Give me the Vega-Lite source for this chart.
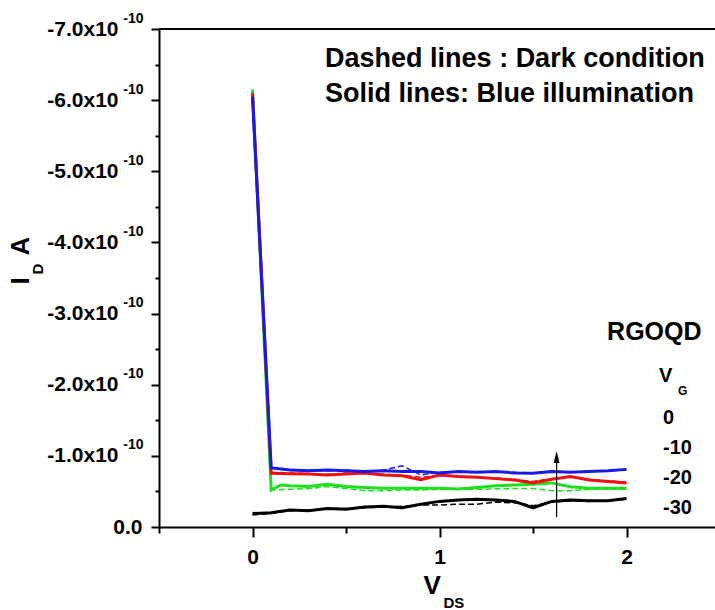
{
  "$schema": "https://vega.github.io/schema/vega-lite/v6.json",
  "width": 556,
  "height": 498,
  "autosize": {"type": "none"},
  "padding": {"left": 159, "top": 29, "right": 0, "bottom": 83},
  "background": "white",
  "config": {
    "view": {"stroke": null},
    "font": "Liberation Sans",
    "axis": {
      "grid": false,
      "domainColor": "black",
      "domainWidth": 2,
      "tickColor": "black",
      "tickWidth": 2,
      "labelColor": "black",
      "labelFont": "Liberation Sans",
      "labelFontWeight": "bold",
      "titleColor": "black",
      "titleFont": "Liberation Sans",
      "titleFontWeight": "bold"
    },
    "text": {"font": "Liberation Sans", "fontWeight": "bold", "color": "black"}
  },
  "datasets": {
    "iv": [
      {"VDS": 0.0, "ID": -0.19e-10, "VG": "0", "cond": "Blue illumination"},
      {"VDS": 0.1, "ID": -0.20e-10, "VG": "0", "cond": "Blue illumination"},
      {"VDS": 0.2, "ID": -0.24e-10, "VG": "0", "cond": "Blue illumination"},
      {"VDS": 0.3, "ID": -0.23e-10, "VG": "0", "cond": "Blue illumination"},
      {"VDS": 0.4, "ID": -0.26e-10, "VG": "0", "cond": "Blue illumination"},
      {"VDS": 0.5, "ID": -0.25e-10, "VG": "0", "cond": "Blue illumination"},
      {"VDS": 0.6, "ID": -0.28e-10, "VG": "0", "cond": "Blue illumination"},
      {"VDS": 0.7, "ID": -0.29e-10, "VG": "0", "cond": "Blue illumination"},
      {"VDS": 0.8, "ID": -0.27e-10, "VG": "0", "cond": "Blue illumination"},
      {"VDS": 0.9, "ID": -0.32e-10, "VG": "0", "cond": "Blue illumination"},
      {"VDS": 1.0, "ID": -0.36e-10, "VG": "0", "cond": "Blue illumination"},
      {"VDS": 1.1, "ID": -0.38e-10, "VG": "0", "cond": "Blue illumination"},
      {"VDS": 1.2, "ID": -0.39e-10, "VG": "0", "cond": "Blue illumination"},
      {"VDS": 1.3, "ID": -0.38e-10, "VG": "0", "cond": "Blue illumination"},
      {"VDS": 1.4, "ID": -0.36e-10, "VG": "0", "cond": "Blue illumination"},
      {"VDS": 1.5, "ID": -0.27e-10, "VG": "0", "cond": "Blue illumination"},
      {"VDS": 1.6, "ID": -0.36e-10, "VG": "0", "cond": "Blue illumination"},
      {"VDS": 1.7, "ID": -0.38e-10, "VG": "0", "cond": "Blue illumination"},
      {"VDS": 1.8, "ID": -0.37e-10, "VG": "0", "cond": "Blue illumination"},
      {"VDS": 1.9, "ID": -0.37e-10, "VG": "0", "cond": "Blue illumination"},
      {"VDS": 2.0, "ID": -0.40e-10, "VG": "0", "cond": "Blue illumination"},

      {"VDS": 0.0, "ID": -6.15e-10, "VG": "-10", "cond": "Blue illumination"},
      {"VDS": 0.1, "ID": -0.52e-10, "VG": "-10", "cond": "Blue illumination"},
      {"VDS": 0.15, "ID": -0.59e-10, "VG": "-10", "cond": "Blue illumination"},
      {"VDS": 0.2, "ID": -0.58e-10, "VG": "-10", "cond": "Blue illumination"},
      {"VDS": 0.3, "ID": -0.57e-10, "VG": "-10", "cond": "Blue illumination"},
      {"VDS": 0.4, "ID": -0.60e-10, "VG": "-10", "cond": "Blue illumination"},
      {"VDS": 0.5, "ID": -0.57e-10, "VG": "-10", "cond": "Blue illumination"},
      {"VDS": 0.6, "ID": -0.555e-10, "VG": "-10", "cond": "Blue illumination"},
      {"VDS": 0.7, "ID": -0.545e-10, "VG": "-10", "cond": "Blue illumination"},
      {"VDS": 0.8, "ID": -0.545e-10, "VG": "-10", "cond": "Blue illumination"},
      {"VDS": 0.9, "ID": -0.545e-10, "VG": "-10", "cond": "Blue illumination"},
      {"VDS": 1.0, "ID": -0.545e-10, "VG": "-10", "cond": "Blue illumination"},
      {"VDS": 1.1, "ID": -0.535e-10, "VG": "-10", "cond": "Blue illumination"},
      {"VDS": 1.2, "ID": -0.555e-10, "VG": "-10", "cond": "Blue illumination"},
      {"VDS": 1.3, "ID": -0.58e-10, "VG": "-10", "cond": "Blue illumination"},
      {"VDS": 1.4, "ID": -0.59e-10, "VG": "-10", "cond": "Blue illumination"},
      {"VDS": 1.5, "ID": -0.60e-10, "VG": "-10", "cond": "Blue illumination"},
      {"VDS": 1.6, "ID": -0.62e-10, "VG": "-10", "cond": "Blue illumination"},
      {"VDS": 1.7, "ID": -0.565e-10, "VG": "-10", "cond": "Blue illumination"},
      {"VDS": 1.8, "ID": -0.545e-10, "VG": "-10", "cond": "Blue illumination"},
      {"VDS": 1.9, "ID": -0.545e-10, "VG": "-10", "cond": "Blue illumination"},
      {"VDS": 2.0, "ID": -0.545e-10, "VG": "-10", "cond": "Blue illumination"},

      {"VDS": 0.0, "ID": -6.1e-10, "VG": "-20", "cond": "Blue illumination"},
      {"VDS": 0.1, "ID": -0.755e-10, "VG": "-20", "cond": "Blue illumination"},
      {"VDS": 0.2, "ID": -0.75e-10, "VG": "-20", "cond": "Blue illumination"},
      {"VDS": 0.3, "ID": -0.745e-10, "VG": "-20", "cond": "Blue illumination"},
      {"VDS": 0.4, "ID": -0.73e-10, "VG": "-20", "cond": "Blue illumination"},
      {"VDS": 0.5, "ID": -0.745e-10, "VG": "-20", "cond": "Blue illumination"},
      {"VDS": 0.6, "ID": -0.76e-10, "VG": "-20", "cond": "Blue illumination"},
      {"VDS": 0.7, "ID": -0.73e-10, "VG": "-20", "cond": "Blue illumination"},
      {"VDS": 0.8, "ID": -0.72e-10, "VG": "-20", "cond": "Blue illumination"},
      {"VDS": 0.9, "ID": -0.665e-10, "VG": "-20", "cond": "Blue illumination"},
      {"VDS": 1.0, "ID": -0.73e-10, "VG": "-20", "cond": "Blue illumination"},
      {"VDS": 1.1, "ID": -0.71e-10, "VG": "-20", "cond": "Blue illumination"},
      {"VDS": 1.2, "ID": -0.70e-10, "VG": "-20", "cond": "Blue illumination"},
      {"VDS": 1.3, "ID": -0.68e-10, "VG": "-20", "cond": "Blue illumination"},
      {"VDS": 1.4, "ID": -0.66e-10, "VG": "-20", "cond": "Blue illumination"},
      {"VDS": 1.5, "ID": -0.62e-10, "VG": "-20", "cond": "Blue illumination"},
      {"VDS": 1.6, "ID": -0.67e-10, "VG": "-20", "cond": "Blue illumination"},
      {"VDS": 1.7, "ID": -0.71e-10, "VG": "-20", "cond": "Blue illumination"},
      {"VDS": 1.8, "ID": -0.66e-10, "VG": "-20", "cond": "Blue illumination"},
      {"VDS": 1.9, "ID": -0.64e-10, "VG": "-20", "cond": "Blue illumination"},
      {"VDS": 2.0, "ID": -0.62e-10, "VG": "-20", "cond": "Blue illumination"},

      {"VDS": 0.0, "ID": -6.05e-10, "VG": "-30", "cond": "Blue illumination"},
      {"VDS": 0.1, "ID": -0.83e-10, "VG": "-30", "cond": "Blue illumination"},
      {"VDS": 0.2, "ID": -0.80e-10, "VG": "-30", "cond": "Blue illumination"},
      {"VDS": 0.3, "ID": -0.79e-10, "VG": "-30", "cond": "Blue illumination"},
      {"VDS": 0.4, "ID": -0.80e-10, "VG": "-30", "cond": "Blue illumination"},
      {"VDS": 0.5, "ID": -0.79e-10, "VG": "-30", "cond": "Blue illumination"},
      {"VDS": 0.6, "ID": -0.78e-10, "VG": "-30", "cond": "Blue illumination"},
      {"VDS": 0.7, "ID": -0.79e-10, "VG": "-30", "cond": "Blue illumination"},
      {"VDS": 0.8, "ID": -0.78e-10, "VG": "-30", "cond": "Blue illumination"},
      {"VDS": 0.9, "ID": -0.78e-10, "VG": "-30", "cond": "Blue illumination"},
      {"VDS": 1.0, "ID": -0.76e-10, "VG": "-30", "cond": "Blue illumination"},
      {"VDS": 1.1, "ID": -0.78e-10, "VG": "-30", "cond": "Blue illumination"},
      {"VDS": 1.2, "ID": -0.77e-10, "VG": "-30", "cond": "Blue illumination"},
      {"VDS": 1.3, "ID": -0.78e-10, "VG": "-30", "cond": "Blue illumination"},
      {"VDS": 1.4, "ID": -0.76e-10, "VG": "-30", "cond": "Blue illumination"},
      {"VDS": 1.5, "ID": -0.755e-10, "VG": "-30", "cond": "Blue illumination"},
      {"VDS": 1.6, "ID": -0.78e-10, "VG": "-30", "cond": "Blue illumination"},
      {"VDS": 1.7, "ID": -0.77e-10, "VG": "-30", "cond": "Blue illumination"},
      {"VDS": 1.8, "ID": -0.78e-10, "VG": "-30", "cond": "Blue illumination"},
      {"VDS": 1.9, "ID": -0.79e-10, "VG": "-30", "cond": "Blue illumination"},
      {"VDS": 2.0, "ID": -0.81e-10, "VG": "-30", "cond": "Blue illumination"},

      {"VDS": 0.0, "ID": -0.17e-10, "VG": "0", "cond": "Dark"},
      {"VDS": 0.1, "ID": -0.19e-10, "VG": "0", "cond": "Dark"},
      {"VDS": 0.2, "ID": -0.23e-10, "VG": "0", "cond": "Dark"},
      {"VDS": 0.3, "ID": -0.24e-10, "VG": "0", "cond": "Dark"},
      {"VDS": 0.4, "ID": -0.26e-10, "VG": "0", "cond": "Dark"},
      {"VDS": 0.5, "ID": -0.26e-10, "VG": "0", "cond": "Dark"},
      {"VDS": 0.6, "ID": -0.27e-10, "VG": "0", "cond": "Dark"},
      {"VDS": 0.7, "ID": -0.28e-10, "VG": "0", "cond": "Dark"},
      {"VDS": 0.8, "ID": -0.29e-10, "VG": "0", "cond": "Dark"},
      {"VDS": 0.9, "ID": -0.31e-10, "VG": "0", "cond": "Dark"},
      {"VDS": 1.0, "ID": -0.31e-10, "VG": "0", "cond": "Dark"},
      {"VDS": 1.1, "ID": -0.32e-10, "VG": "0", "cond": "Dark"},
      {"VDS": 1.2, "ID": -0.32e-10, "VG": "0", "cond": "Dark"},
      {"VDS": 1.3, "ID": -0.35e-10, "VG": "0", "cond": "Dark"},
      {"VDS": 1.4, "ID": -0.34e-10, "VG": "0", "cond": "Dark"},
      {"VDS": 1.5, "ID": -0.30e-10, "VG": "0", "cond": "Dark"},
      {"VDS": 1.6, "ID": -0.35e-10, "VG": "0", "cond": "Dark"},
      {"VDS": 1.7, "ID": -0.37e-10, "VG": "0", "cond": "Dark"},
      {"VDS": 1.8, "ID": -0.36e-10, "VG": "0", "cond": "Dark"},
      {"VDS": 1.9, "ID": -0.37e-10, "VG": "0", "cond": "Dark"},
      {"VDS": 2.0, "ID": -0.39e-10, "VG": "0", "cond": "Dark"},

      {"VDS": 0.0, "ID": -6.1e-10, "VG": "-10", "cond": "Dark"},
      {"VDS": 0.1, "ID": -0.52e-10, "VG": "-10", "cond": "Dark"},
      {"VDS": 0.2, "ID": -0.53e-10, "VG": "-10", "cond": "Dark"},
      {"VDS": 0.3, "ID": -0.54e-10, "VG": "-10", "cond": "Dark"},
      {"VDS": 0.4, "ID": -0.57e-10, "VG": "-10", "cond": "Dark"},
      {"VDS": 0.5, "ID": -0.54e-10, "VG": "-10", "cond": "Dark"},
      {"VDS": 0.6, "ID": -0.51e-10, "VG": "-10", "cond": "Dark"},
      {"VDS": 0.7, "ID": -0.51e-10, "VG": "-10", "cond": "Dark"},
      {"VDS": 0.8, "ID": -0.52e-10, "VG": "-10", "cond": "Dark"},
      {"VDS": 0.9, "ID": -0.52e-10, "VG": "-10", "cond": "Dark"},
      {"VDS": 1.0, "ID": -0.53e-10, "VG": "-10", "cond": "Dark"},
      {"VDS": 1.2, "ID": -0.53e-10, "VG": "-10", "cond": "Dark"},
      {"VDS": 1.4, "ID": -0.54e-10, "VG": "-10", "cond": "Dark"},
      {"VDS": 1.5, "ID": -0.54e-10, "VG": "-10", "cond": "Dark"},
      {"VDS": 1.6, "ID": -0.51e-10, "VG": "-10", "cond": "Dark"},
      {"VDS": 1.7, "ID": -0.51e-10, "VG": "-10", "cond": "Dark"},
      {"VDS": 1.8, "ID": -0.53e-10, "VG": "-10", "cond": "Dark"},
      {"VDS": 2.0, "ID": -0.53e-10, "VG": "-10", "cond": "Dark"},

      {"VDS": 0.0, "ID": -6.08e-10, "VG": "-20", "cond": "Dark"},
      {"VDS": 0.1, "ID": -0.77e-10, "VG": "-20", "cond": "Dark"},
      {"VDS": 0.2, "ID": -0.76e-10, "VG": "-20", "cond": "Dark"},
      {"VDS": 0.3, "ID": -0.75e-10, "VG": "-20", "cond": "Dark"},
      {"VDS": 0.4, "ID": -0.74e-10, "VG": "-20", "cond": "Dark"},
      {"VDS": 0.5, "ID": -0.76e-10, "VG": "-20", "cond": "Dark"},
      {"VDS": 0.6, "ID": -0.75e-10, "VG": "-20", "cond": "Dark"},
      {"VDS": 0.7, "ID": -0.74e-10, "VG": "-20", "cond": "Dark"},
      {"VDS": 0.8, "ID": -0.73e-10, "VG": "-20", "cond": "Dark"},
      {"VDS": 0.9, "ID": -0.70e-10, "VG": "-20", "cond": "Dark"},
      {"VDS": 1.0, "ID": -0.72e-10, "VG": "-20", "cond": "Dark"},
      {"VDS": 1.1, "ID": -0.71e-10, "VG": "-20", "cond": "Dark"},
      {"VDS": 1.2, "ID": -0.70e-10, "VG": "-20", "cond": "Dark"},
      {"VDS": 1.3, "ID": -0.69e-10, "VG": "-20", "cond": "Dark"},
      {"VDS": 1.4, "ID": -0.67e-10, "VG": "-20", "cond": "Dark"},
      {"VDS": 1.5, "ID": -0.64e-10, "VG": "-20", "cond": "Dark"},
      {"VDS": 1.6, "ID": -0.68e-10, "VG": "-20", "cond": "Dark"},
      {"VDS": 1.7, "ID": -0.70e-10, "VG": "-20", "cond": "Dark"},
      {"VDS": 1.8, "ID": -0.67e-10, "VG": "-20", "cond": "Dark"},
      {"VDS": 1.9, "ID": -0.65e-10, "VG": "-20", "cond": "Dark"},
      {"VDS": 2.0, "ID": -0.63e-10, "VG": "-20", "cond": "Dark"},

      {"VDS": 0.0, "ID": -6.0e-10, "VG": "-30", "cond": "Dark"},
      {"VDS": 0.1, "ID": -0.84e-10, "VG": "-30", "cond": "Dark"},
      {"VDS": 0.2, "ID": -0.81e-10, "VG": "-30", "cond": "Dark"},
      {"VDS": 0.3, "ID": -0.80e-10, "VG": "-30", "cond": "Dark"},
      {"VDS": 0.4, "ID": -0.79e-10, "VG": "-30", "cond": "Dark"},
      {"VDS": 0.5, "ID": -0.80e-10, "VG": "-30", "cond": "Dark"},
      {"VDS": 0.6, "ID": -0.78e-10, "VG": "-30", "cond": "Dark"},
      {"VDS": 0.7, "ID": -0.80e-10, "VG": "-30", "cond": "Dark"},
      {"VDS": 0.8, "ID": -0.86e-10, "VG": "-30", "cond": "Dark"},
      {"VDS": 0.9, "ID": -0.73e-10, "VG": "-30", "cond": "Dark"},
      {"VDS": 1.0, "ID": -0.77e-10, "VG": "-30", "cond": "Dark"},
      {"VDS": 1.1, "ID": -0.77e-10, "VG": "-30", "cond": "Dark"},
      {"VDS": 1.2, "ID": -0.78e-10, "VG": "-30", "cond": "Dark"},
      {"VDS": 1.3, "ID": -0.77e-10, "VG": "-30", "cond": "Dark"},
      {"VDS": 1.4, "ID": -0.77e-10, "VG": "-30", "cond": "Dark"},
      {"VDS": 1.5, "ID": -0.76e-10, "VG": "-30", "cond": "Dark"},
      {"VDS": 1.6, "ID": -0.79e-10, "VG": "-30", "cond": "Dark"},
      {"VDS": 1.7, "ID": -0.77e-10, "VG": "-30", "cond": "Dark"},
      {"VDS": 1.8, "ID": -0.78e-10, "VG": "-30", "cond": "Dark"},
      {"VDS": 1.9, "ID": -0.79e-10, "VG": "-30", "cond": "Dark"},
      {"VDS": 2.0, "ID": -0.80e-10, "VG": "-30", "cond": "Dark"}
    ]
  },
  "layer": [
    {
      "data": {"name": "iv"},
      "transform": [{"filter": "datum.cond == 'Dark'"}],
      "mark": {"type": "line", "strokeWidth": 1.5, "strokeDash": [6, 3]},
      "encoding": {
        "x": {
          "field": "VDS", "type": "quantitative",
          "scale": {"domain": [-0.5, 2.473], "nice": false, "zero": false},
          "axis": {
            "orient": "bottom",
            "values": [-0.5, 0, 0.5, 1, 1.5, 2],
            "tickSize": {"condition": {"test": "abs(datum.value - round(datum.value)) < 0.01", "value": 10}, "value": 6},
            "labelExpr": "abs(datum.value - round(datum.value)) < 0.01 ? format(datum.value, 'd') : ''",
            "labelFontSize": 21,
            "labelPadding": 9,
            "title": "V",
            "titleFontSize": 26,
            "titleAnchor": "start",
            "titleAlign": "left",
            "titleBaseline": "alphabetic",
            "titleX": 264,
            "titleY": 66
          }
        },
        "y": {
          "field": "ID", "type": "quantitative",
          "scale": {"domain": [0, -7e-10], "nice": false, "zero": false},
          "axis": {
            "orient": "left",
            "values": [0, -0.5e-10, -1e-10, -1.5e-10, -2e-10, -2.5e-10, -3e-10, -3.5e-10, -4e-10, -4.5e-10, -5e-10, -5.5e-10, -6e-10, -6.5e-10, -7e-10],
            "tickSize": {"condition": {"test": "abs(datum.value*1e10 - round(datum.value*1e10)) < 0.01", "value": 8}, "value": 4},
            "labelExpr": "abs(datum.value*1e10 - round(datum.value*1e10)) < 0.01 ? (datum.value == 0 ? '0.0' : '-' + format(abs(datum.value)*1e10, '.1f') + 'x10') : ''",
            "labelFontSize": 21,
            "labelPadding": {"condition": {"test": "datum.value == 0", "value": 9}, "value": 33},
            "title": "I\u00a0\u00a0\u00a0A",
            "titleFontSize": 26,
            "titleAngle": 270,
            "titleAlign": "left",
            "titleBaseline": "alphabetic",
            "titleX": -131,
            "titleY": 255
          }
        },
        "color": {
          "field": "VG", "type": "nominal",
          "scale": {"domain": ["0", "-10", "-20", "-30"], "range": ["#000000", "#1ee01e", "#ee1111", "#1a1ae6"]},
          "legend": {
            "orient": "none", "legendX": 500, "legendY": 337,
            "title": "V", "titleFontSize": 20, "titleFontWeight": "bold", "titleColor": "black", "titlePadding": 22,
            "labelFontSize": 20, "labelFontWeight": "bold", "labelColor": "black",
            "symbolSize": 0, "symbolOpacity": 0, "symbolStrokeWidth": 0, "labelOffset": -16,
            "rowPadding": 10, "padding": 0
          }
        },
        "detail": {"field": "cond"}
      }
    },
    {
      "data": {"name": "iv"},
      "transform": [{"filter": "datum.cond == 'Blue illumination'"}],
      "mark": {"type": "line", "strokeWidth": 3},
      "encoding": {
        "x": {
          "field": "VDS", "type": "quantitative",
          "axis": {
            "orient": "bottom", "domain": false, "ticks": false, "labels": false,
            "title": "DS", "titleFontSize": 15, "titleAnchor": "start", "titleAlign": "left",
            "titleBaseline": "alphabetic", "titleX": 284, "titleY": 80
          }
        },
        "y": {
          "field": "ID", "type": "quantitative",
          "axis": {
            "orient": "left", "domain": false, "ticks": false,
            "values": [-1e-10, -2e-10, -3e-10, -4e-10, -5e-10, -6e-10, -7e-10],
            "labelExpr": "'-10'",
            "labelFontSize": 14,
            "labelPadding": 16,
            "labelOffset": -11,
            "title": "D", "titleFontSize": 15, "titleAngle": 270, "titleAlign": "left",
            "titleBaseline": "alphabetic", "titleX": -117, "titleY": 245
          }
        },
        "color": {
          "field": "VG", "type": "nominal",
          "legend": {
            "orient": "none", "legendX": 500, "legendY": 337,
            "title": "V", "titleFontSize": 20, "titleFontWeight": "bold", "titleColor": "black", "titlePadding": 22,
            "labelFontSize": 20, "labelFontWeight": "bold", "labelColor": "black",
            "symbolSize": 0, "symbolOpacity": 0, "symbolStrokeWidth": 0, "labelOffset": -16,
            "rowPadding": 10, "padding": 0
          }
        },
        "detail": {"field": "cond"}
      }
    },
    {
      "data": {"values": [{}]},
      "mark": {"type": "rule", "color": "black", "strokeWidth": 2},
      "encoding": {"y": {"datum": -7e-10, "axis": null}}
    },
    {
      "data": {"values": [{}]},
      "mark": {"type": "rule", "color": "black", "strokeWidth": 1.2},
      "encoding": {
        "x": {"datum": 1.626, "axis": null},
        "y": {"datum": -0.14e-10, "axis": null},
        "y2": {"datum": -0.92e-10}
      }
    },
    {
      "data": {"values": [{}]},
      "mark": {"type": "point", "shape": "M-0.5,1L0,-1L0.5,1Z", "filled": true, "color": "black", "size": 144, "opacity": 1},
      "encoding": {
        "x": {"datum": 1.626, "axis": null},
        "y": {"datum": -0.985e-10, "axis": null}
      }
    },
    {
      "data": {"values": [{}]},
      "mark": {"type": "text", "align": "left", "baseline": "alphabetic", "fontSize": 27, "fontWeight": "bold"},
      "encoding": {
        "x": {"datum": 0.388, "axis": null},
        "y": {"datum": -6.466e-10, "axis": null},
        "text": {"value": "Dashed lines : Dark condition"}
      }
    },
    {
      "data": {"values": [{}]},
      "mark": {"type": "text", "align": "left", "baseline": "alphabetic", "fontSize": 27, "fontWeight": "bold"},
      "encoding": {
        "x": {"datum": 0.388, "axis": null},
        "y": {"datum": -5.974e-10, "axis": null},
        "text": {"value": "Solid lines: Blue illumination"}
      }
    },
    {
      "data": {"values": [{}]},
      "mark": {"type": "text", "align": "left", "baseline": "alphabetic", "fontSize": 25, "fontWeight": "bold"},
      "encoding": {
        "x": {"datum": 1.896, "axis": null},
        "y": {"datum": -2.629e-10, "axis": null},
        "text": {"value": "RGOQD"}
      }
    },
    {
      "data": {"values": [{}]},
      "mark": {"type": "text", "align": "left", "baseline": "alphabetic", "fontSize": 12, "fontWeight": "bold"},
      "encoding": {
        "x": {"datum": 2.275, "axis": null},
        "y": {"datum": -1.855e-10, "axis": null},
        "text": {"value": "G"}
      }
    }
  ],
  "resolve": {"axis": {"x": "independent", "y": "independent"}}
}
